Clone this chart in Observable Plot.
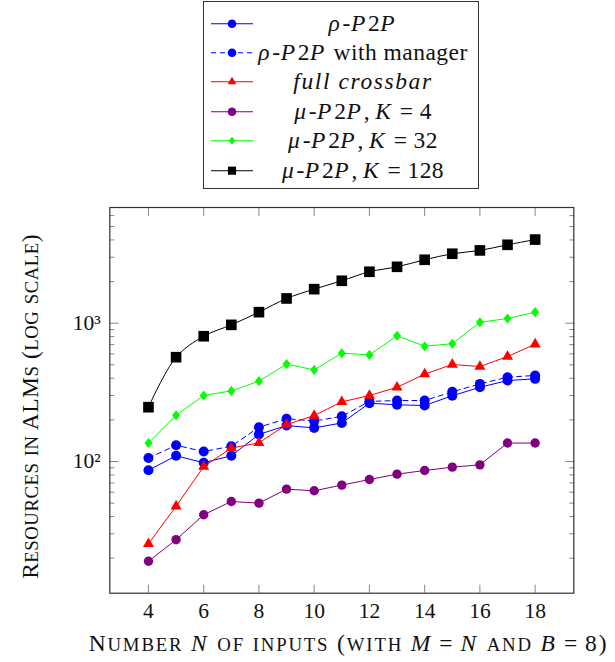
<!DOCTYPE html>
<html>
<head>
<meta charset="utf-8">
<script src="https://cdn.jsdelivr.net/npm/d3@7"></script>
<script src="https://cdn.jsdelivr.net/npm/@observablehq/plot@0.6"></script>
<style>
  body { margin:0; background:#fff; font-family:'Liberation Serif','Times New Roman',serif; color:#111; }
  #legend { position:relative; width:615px; height:195px; }
  #legendBox { position:absolute; left:203px; top:1px; width:274px; height:186px; border:1.3px solid #333; box-sizing:content-box; }
  .row { position:absolute; left:0; width:274px; height:29.4px; }
  .row svg { position:absolute; left:7px; top:0; }
  .row .txt { position:absolute; left:46px; width:226px; text-align:center; font-size:23.5px; line-height:29.4px; white-space:nowrap; letter-spacing:0.02em; }
  i.m { font-style:italic; letter-spacing:0.12em; }
  span.eq { margin:0 0.26em; }
  #xlabel { position:relative; width:615px; height:37px; }
  #xlabel span.lab { position:absolute; top:7px; left:348.5px; transform:translateX(-50%); white-space:nowrap; font-size:23.5px; line-height:23.5px; }
</style>
</head>
<body>
<div id="legend"><div id="legendBox"></div></div>
<div id="chart"></div>
<div id="xlabel"><span class="lab" id="xlab"></span></div>
<script>
// ---- data ----
const N = [4,5,6,7,8,9,10,11,12,13,14,15,16,17,18];
const rhoP2P      = [86.5,110,98,110,157,182,175,190,264,257,254,299,344,385,396];
const rhoManager  = [106,131,118,129,177,204,196,212,272,276,276,319,364,407,419];
const fullCrossbar= [25.4,47.5,92,125,136.5,185,215,270,300,344,428,503,486,574,705];
const muK4        = [19,27.2,41.2,51.4,50,63.1,61.4,67.5,74.1,81,86.1,91,94.6,136,136];
const muK32       = [136,216,300,324,381,506,460,607,590,811,682,710,1016,1081,1202];
const muK128      = [247,568,805,973,1202,1510,1763,2027,2355,2558,2875,3180,3360,3690,4025];
const xTicks = [4,6,8,10,12,14,16,18];
const yMajor = [100,1000];
const yMinor = [20,30,40,50,60,70,80,90,200,300,400,500,600,700,800,900,2000,3000,4000,5000,6000];
const yTickLabels = ["10²","10³"];
const yLabel = "Resources in ALMs (log scale)";
// x label pieces: [style, text]  sc = small caps, it = math italic, eq = math equals, rm = roman
const xLabelParts = [["sc","Number "],["it","N"],["sc"," of inputs (with "],["it","M"],["eq","="],["it","N"],["sc"," and "],["it","B"],["eq","="],["rm","8)"]];

const FONT = "'Liberation Serif','Times New Roman',serif";
const SC = 0.8; // small-caps scale
const XLABEL_WIDTH = 527, YLABEL_LENGTH = 345; // target text extents (px)

function scHTML(s) {
  return s.replace(/[a-z]+/g, m => `<span style="font-size:${SC}em">${m.toUpperCase()}</span>`);
}
const xlab = document.getElementById("xlab");
xlab.innerHTML = xLabelParts.map(([k, t]) =>
  k === "sc" ? scHTML(t) : k === "it" ? `<i class="m">${t}</i>` : k === "eq" ? `<span class="eq">${t}</span>` : t).join("");

// tall diamond symbol like pgfplots diamond*
const diamondTall = { draw(ctx, size) { const b = Math.sqrt(size/1.6), a = 0.8*b; ctx.moveTo(0,-b); ctx.lineTo(a,0); ctx.lineTo(0,b); ctx.lineTo(-a,0); ctx.closePath(); } };

const muName = k => `<i class="m">μ</i>-<i class="m">P</i>2<i class="m">P</i>,&thinsp;<i class="m">K</i><span class="eq">=</span>${k}`;
const series = [
  {values: rhoP2P, name:'<i class="m">ρ</i>-<i class="m">P</i>2<i class="m">P</i>', color:"#0000ff", symbol:d3.symbolCircle, dash:null, r:5, lr:4.3, curve:"linear"},
  {values: rhoManager, name:'<i class="m">ρ</i>-<i class="m">P</i>2<i class="m">P</i> with manager', color:"#0000ff", symbol:d3.symbolCircle, dash:"5,4", r:5, lr:4.3, curve:"linear"},
  {values: fullCrossbar, name:'<i style="letter-spacing:1.6px">full crossbar</i>', color:"#ff0000", symbol:d3.symbolTriangle, dash:null, r:4.1, lr:3.2, curve:"linear"},
  {values: muK4, name:muName(4), color:"#800080", symbol:d3.symbolCircle, dash:null, r:4.7, lr:4.3, curve:"linear"},
  {values: muK32, name:muName(32), color:"#00ff00", symbol:diamondTall, dash:null, r:3.6, lr:2.9, curve:"linear"},
  {values: muK128, name:muName(128), color:"#000000", symbol:d3.symbolSquare, dash:null, r:6.0, lr:4.6, curve:"catmull-rom"}
];

// ---- legend ----
const box = document.getElementById("legendBox");
series.forEach((s, i) => {
  const row = document.createElement("div");
  row.className = "row";
  row.style.top = (6.5 + i*29.4) + "px";
  const sym = d3.symbol(s.symbol, Math.PI*s.lr*s.lr)();
  row.innerHTML = `<svg width="42" height="29.4"><line x1="0" x2="42" y1="14.7" y2="14.7" stroke="${s.color}" stroke-width="1.1" ${s.dash?`stroke-dasharray="${s.dash}"`:""}/>` +
    `<path d="${sym}" transform="translate(21,14.7)" fill="${s.color}"/></svg><div class="txt">${s.name}</div>`;
  box.appendChild(row);
});

// ---- chart ----
const marks = [];
series.forEach(s => {
  const data = N.map((n, i) => ({n, v: s.values[i]}));
  marks.push(Plot.line(data, {x:"n", y:"v", stroke:s.color, strokeWidth:1, strokeDasharray:s.dash || undefined, curve:s.curve}));
  marks.push(Plot.dot(data, {x:"n", y:"v", fill:s.color, stroke:"none", symbol:s.symbol, r:s.r}));
});

const tickColor = "#888";
const chart = Plot.plot({
  width: 615, height: 430,
  marginTop: 12, marginBottom: 32.3, marginLeft: 109.3, marginRight: 41.7,
  style: {fontFamily: FONT, background: "#fff"},
  x: {domain: [2.6, 19.4]},
  y: {type: "log", domain: [11.16, 6866]},
  marks: [
    // inward ticks
    Plot.axisX({anchor:"bottom", ticks:xTicks, tickSize:8, dy:-8, fill:"none", stroke:tickColor, tickFormat:()=>"", label:null}),
    Plot.axisX({anchor:"top", ticks:xTicks, tickSize:8, dy:8, fill:"none", stroke:tickColor, tickFormat:()=>"", label:null}),
    Plot.axisY({anchor:"left", ticks:yMajor, tickSize:9, dx:9, fill:"none", stroke:tickColor, tickFormat:()=>"", label:null}),
    Plot.axisY({anchor:"left", ticks:yMinor, tickSize:5, dx:5, fill:"none", stroke:tickColor, tickFormat:()=>"", label:null}),
    Plot.axisY({anchor:"right", ticks:yMajor, tickSize:9, dx:-9, fill:"none", stroke:tickColor, tickFormat:()=>"", label:null}),
    Plot.axisY({anchor:"right", ticks:yMinor, tickSize:5, dx:-5, fill:"none", stroke:tickColor, tickFormat:()=>"", label:null}),
    // tick labels
    Plot.axisX({anchor:"bottom", ticks:xTicks, tickSize:0, tickPadding:10, fontSize:21.5, fill:"#111", label:null}),
    Plot.axisY({anchor:"left", ticks:yMajor, tickSize:0, tickPadding:9, fontSize:21.5, fill:"#111", tickFormat:(d)=>yTickLabels[yMajor.indexOf(d)], label:null}),
    Plot.text([yLabel], {text:d=>d, frameAnchor:"left", textAnchor:"middle", rotate:-90, dx:-79, dy:6, fontSize:23.5, fill:"#111"}),
    ...marks,
    Plot.frame({stroke:"#333", strokeWidth:1.2})
  ]
});
document.getElementById("chart").appendChild(chart);

// y label: small caps via tspans, then fit its length
d3.select(chart).selectAll("text").filter(function() { return this.textContent === yLabel; }).each(function() {
  const t = d3.select(this);
  t.text(null);
  yLabel.split(/([a-z]+)/).forEach(part => {
    if (!part) return;
    if (/^[a-z]+$/.test(part)) t.append("tspan").attr("font-size", 23.5*SC).text(part.toUpperCase());
    else t.append("tspan").text(part);
  });
  const len = this.getComputedTextLength();
  const ls = (YLABEL_LENGTH - len) / yLabel.length;
  if (ls > 0 && ls < 4) t.attr("letter-spacing", ls);
});
// x label: fit its width
{
  const w = xlab.getBoundingClientRect().width;
  const n = xlab.textContent.length;
  const ls = (XLABEL_WIDTH - w) / n;
  if (ls > 0 && ls < 4) xlab.style.letterSpacing = ls + "px";
}
</script>
</body>
</html>
